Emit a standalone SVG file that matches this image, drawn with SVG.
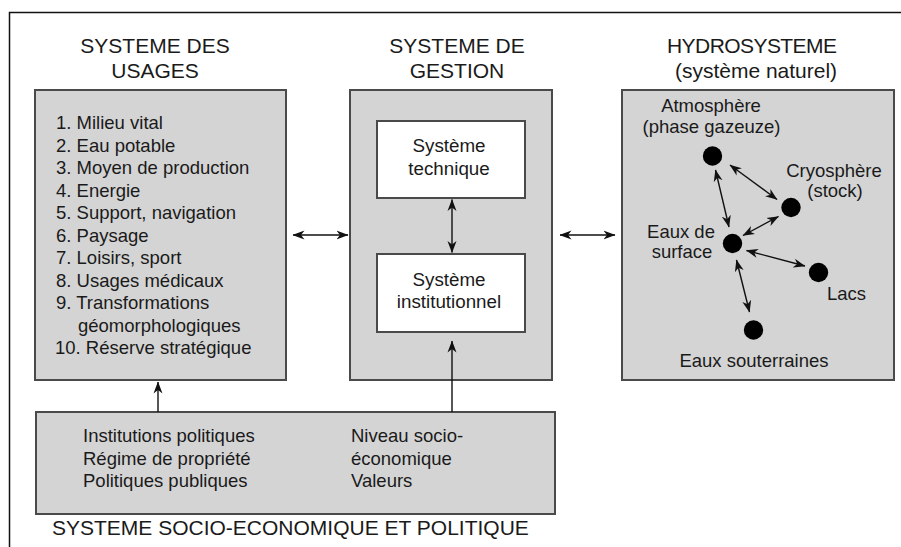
<svg xmlns="http://www.w3.org/2000/svg" width="901" height="547" viewBox="0 0 901 547">
<defs>
<marker id="ah" viewBox="0 0 12 10" refX="11.5" refY="5" markerWidth="12" markerHeight="10" markerUnits="userSpaceOnUse" orient="auto-start-reverse">
<path d="M0,0.5 L12,5 L0,9.5 L3.5,5 z" fill="#111"/>
</marker>
<style>
.box{fill:#d4d4d4;stroke:#4a4a4a;stroke-width:2}
.wbox{fill:#fff;stroke:#4a4a4a;stroke-width:2}
.t{font-family:"Liberation Sans",Arial,sans-serif;font-size:18.5px;fill:#1a1a1a}
.h{font-family:"Liberation Sans",Arial,sans-serif;font-size:21px;fill:#1a1a1a}
.c{text-anchor:middle}
.arr{stroke:#111;stroke-width:1.4;fill:none;marker-start:url(#ah);marker-end:url(#ah)}
.arr1{stroke:#111;stroke-width:1.4;fill:none;marker-end:url(#ah)}
.dot{fill:#000}
</style>
</defs>
<rect width="901" height="547" fill="#fff"/>
<path d="M9.5,547 V12.5 H901" fill="none" stroke="#111" stroke-width="1.5"/>

<g id="usages">
<text class="h c" x="155" y="53">SYSTEME DES</text>
<text class="h c" x="155" y="78">USAGES</text>
<rect class="box" x="35" y="90" width="251" height="290"/>
<text class="t" x="56" y="129">1. Milieu vital</text>
<text class="t" x="56" y="151.5">2. Eau potable</text>
<text class="t" x="56" y="174">3. Moyen de production</text>
<text class="t" x="56" y="196.5">4. Energie</text>
<text class="t" x="56" y="219">5. Support, navigation</text>
<text class="t" x="56" y="241.5">6. Paysage</text>
<text class="t" x="56" y="264">7. Loisirs, sport</text>
<text class="t" x="56" y="286.5">8. Usages médicaux</text>
<text class="t" x="56" y="309">9. Transformations</text>
<text class="t" x="78" y="331.5">géomorphologiques</text>
<text class="t" x="55" y="354">10. Réserve stratégique</text>
</g>

<g id="gestion">
<text class="h c" x="457" y="53">SYSTEME DE</text>
<text class="h c" x="457" y="78">GESTION</text>
<rect class="box" x="350" y="90" width="202" height="290"/>
<g id="technique">
<rect class="wbox" x="377" y="121" width="148" height="77"/>
<text class="t c" x="449" y="152" style="font-size:18.8px">Système</text>
<text class="t c" x="449" y="175" style="font-size:18.8px">technique</text>
</g>
<g id="institutionnel">
<rect class="wbox" x="377" y="254" width="148" height="78"/>
<text class="t c" x="449" y="286" style="font-size:18.8px">Système</text>
<text class="t c" x="449" y="308" style="font-size:18.8px">institutionnel</text>
</g>
</g>

<g id="hydrosysteme">
<text class="h c" x="752" y="53" textLength="170">HYDROSYSTEME</text>
<text class="h c" x="756" y="78">(système naturel)</text>
<rect class="box" x="622" y="90" width="272" height="290"/>
<g id="atmosphere">
<circle class="dot" cx="712.5" cy="156" r="9.7"/>
<text class="t c" x="711" y="112">Atmosphère</text>
<text class="t c" x="711.5" y="133">(phase gazeuze)</text>
</g>
<g id="cryosphere">
<circle class="dot" cx="791" cy="207.5" r="9.7"/>
<text class="t c" x="834" y="177">Cryosphère</text>
<text class="t c" x="835" y="197">(stock)</text>
</g>
<g id="surface">
<circle class="dot" cx="732.5" cy="243.5" r="9.7"/>
<text class="t c" x="681" y="238">Eaux de</text>
<text class="t c" x="682" y="258">surface</text>
</g>
<g id="lacs">
<circle class="dot" cx="818.5" cy="272.5" r="9.7"/>
<text class="t" x="827" y="300">Lacs</text>
</g>
<g id="souterraines">
<circle class="dot" cx="753.5" cy="330" r="9.7"/>
<text class="t c" x="754" y="367">Eaux souterraines</text>
</g>
</g>

<g id="socio">
<rect class="box" x="36" y="412" width="519" height="102"/>
<text class="t" x="83" y="442">Institutions politiques</text>
<text class="t" x="83" y="464.5">Régime de propriété</text>
<text class="t" x="83" y="487">Politiques publiques</text>
<text class="t" x="351" y="442">Niveau socio-</text>
<text class="t" x="351" y="464.5">économique</text>
<text class="t" x="351" y="487">Valeurs</text>
<text class="h" x="52" y="535">SYSTEME SOCIO-ECONOMIQUE ET POLITIQUE</text>
</g>

<g id="connectors">
<line class="arr" x1="293" y1="235" x2="348" y2="235"/>
<line class="arr" x1="560" y1="235" x2="615" y2="235"/>
<line class="arr" x1="452" y1="199.5" x2="452" y2="252.5"/>
<line class="arr1" x1="452" y1="412" x2="452" y2="341"/>
<line class="arr1" x1="158" y1="412" x2="158" y2="382"/>
<line class="arr" x1="730" y1="165" x2="777" y2="199.5"/>
<line class="arr" x1="715.5" y1="170" x2="729" y2="227"/>
<line class="arr" x1="778.5" y1="216.5" x2="743" y2="235.5"/>
<line class="arr" x1="746.5" y1="250.5" x2="805" y2="266"/>
<line class="arr" x1="736.5" y1="260" x2="749.5" y2="312"/>
</g>
</svg>
